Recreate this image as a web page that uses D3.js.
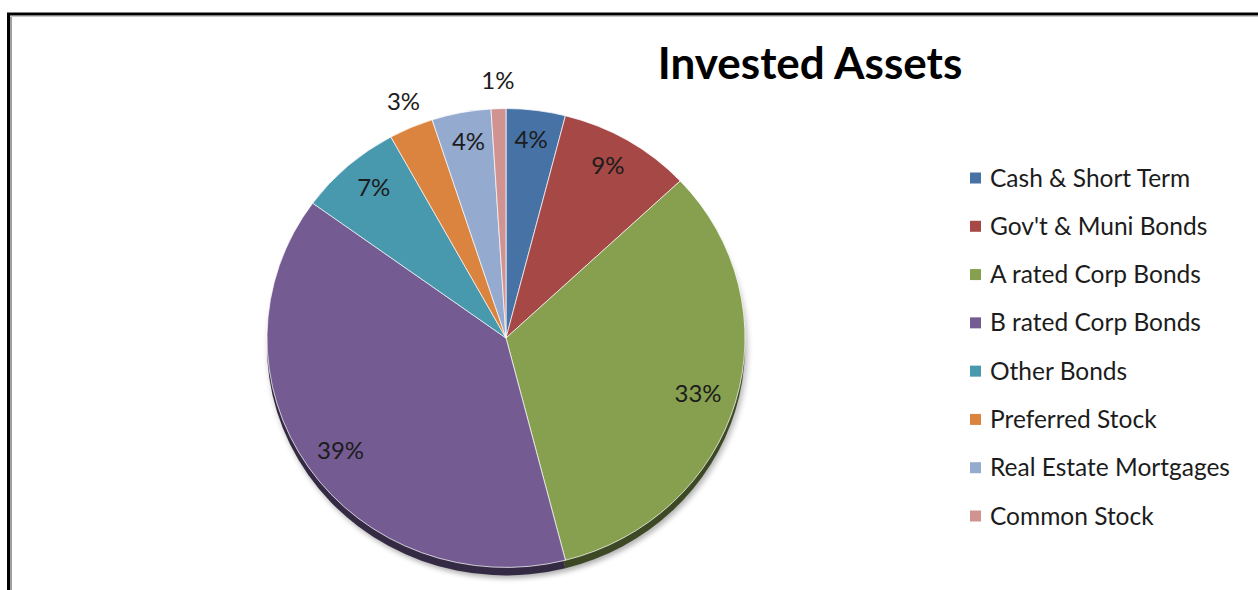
<!DOCTYPE html>
<html>
<head>
<meta charset="utf-8">
<script src="https://cdn.jsdelivr.net/npm/d3@7"></script>
<style>
  body { margin: 0; background: #fff; }
  svg { display: block; font-family: Lato, "Open Sans", sans-serif; }
</style>
</head>
<body>
<div class="chart"></div>
<script>
let categories = ['Cash & Short Term', "Gov't & Muni Bonds", 'A rated Corp Bonds', 'B rated Corp Bonds',
                  'Other Bonds', 'Preferred Stock', 'Real Estate Mortgages', 'Common Stock']
let shares = [4, 9, 33, 39, 7, 3, 4, 1]
let colors = ['#4672a6', '#a64845', '#86a04f', '#745b92', '#4898ae', '#da843f', '#94aacf', '#d09391']

let width = 1258
let height = 590

let cx = 506, cy = 338
let radius = 239
let squash = 0.96

let svg = d3.select('.chart')
            .append('svg')
            .attr('width', width)
            .attr('height', height)

// frame
svg.append('line').attr('x1', 8.5).attr('x2', 8.5).attr('y1', 13).attr('y2', height)
   .attr('stroke', '#000').attr('stroke-width', 3)
svg.append('line').attr('x1', 7).attr('x2', width).attr('y1', 14).attr('y2', 14)
   .attr('stroke', '#000').attr('stroke-width', 3)
svg.append('line').attr('x1', 11).attr('x2', 11).attr('y1', 16).attr('y2', height)
   .attr('stroke', '#a0a0a0').attr('stroke-width', 2)
svg.append('line').attr('x1', 10).attr('x2', width).attr('y1', 16.5).attr('y2', 16.5)
   .attr('stroke', '#c8c8c8').attr('stroke-width', 1)

let defs = svg.append('defs')
defs.append('filter').attr('id', 'blur')
    .attr('x', '-10%').attr('y', '-10%').attr('width', '120%').attr('height', '120%')
    .append('feGaussianBlur').attr('stdDeviation', 3)

let pie = d3.pie().sort(null).value(d => d)
let arcs = pie(shares)
let arc = d3.arc().innerRadius(0).outerRadius(radius)

// soft shadow
svg.append('g')
   .attr('transform', `translate(${cx + 2},${cy + 11}) scale(1,${squash})`)
   .append('circle')
   .attr('r', radius)
   .attr('fill', '#000')
   .attr('opacity', 0.3)
   .attr('filter', 'url(#blur)')

// dark bevel underneath
svg.append('g')
   .attr('transform', `translate(${cx},${cy + 8}) scale(1,${squash})`)
   .selectAll('path')
   .data(arcs)
   .enter()
   .append('path')
   .attr('d', arc)
   .attr('fill', (d, i) => d3.color(colors[i]).darker(2.2))

// main slices
svg.append('g')
   .attr('transform', `translate(${cx},${cy}) scale(1,${squash})`)
   .selectAll('path')
   .data(arcs)
   .enter()
   .append('path')
   .attr('d', arc)
   .attr('fill', (d, i) => colors[i])
   .attr('stroke', 'rgba(255,255,255,0.75)')
   .attr('stroke-width', 1)

// percent labels
let innerLabel = d3.arc().innerRadius(200).outerRadius(200)
let outerLabel = d3.arc().innerRadius(258).outerRadius(258)

arcs.forEach((d, i) => {
    let p = d.data < 4 ? outerLabel.centroid(d) : innerLabel.centroid(d)
    svg.append('text')
       .attr('x', cx + p[0])
       .attr('y', cy + p[1])
       .attr('dy', '0.35em')
       .attr('text-anchor', 'middle')
       .attr('font-size', 24)
       .attr('fill', '#1c1c1c')
       .text(d.data + '%')
})

// title
svg.append('text')
   .attr('x', 810)
   .attr('y', 79)
   .attr('text-anchor', 'middle')
   .attr('font-size', 44)
   .attr('font-weight', 'bold')
   .attr('fill', '#000')
   .text('Invested Assets')

// legend
let legendY = d3.scalePoint()
                .domain(categories)
                .range([178, 516])

categories.forEach((name, i) => {
    svg.append('rect')
       .attr('x', 970)
       .attr('y', legendY(name) - 5.5)
       .attr('width', 11)
       .attr('height', 11)
       .attr('fill', colors[i])
    svg.append('text')
       .attr('x', 990)
       .attr('y', legendY(name))
       .attr('dy', '0.35em')
       .attr('font-size', 24.5)
       .attr('fill', '#1c1c1c')
       .text(name)
})
</script>
</body>
</html>
